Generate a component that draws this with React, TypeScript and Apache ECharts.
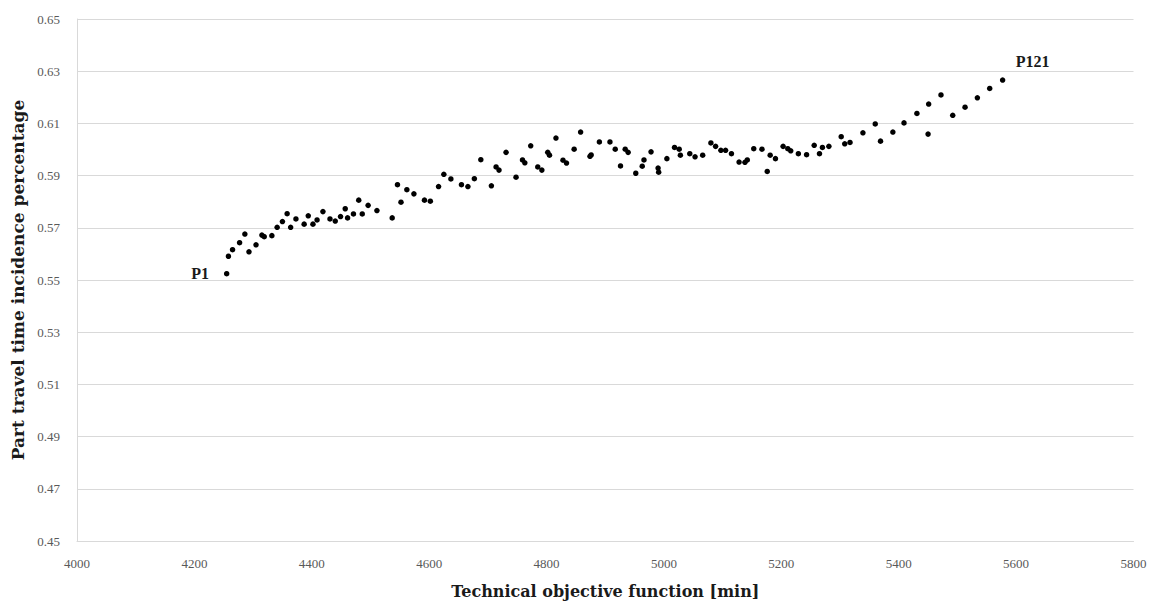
import React, { useEffect, useRef } from "react";
import * as echarts from "echarts";

const xValues: number[] = [
  4255, 4258, 4265, 4277, 4286, 4293, 4305, 4315, 4319, 4332,
  4341, 4350, 4358, 4364, 4373, 4387, 4394, 4402, 4409, 4419,
  4431, 4440, 4449, 4457, 4461, 4471, 4480, 4486, 4496, 4511,
  4537, 4546, 4552, 4562, 4574, 4592, 4602, 4616, 4625, 4637,
  4655, 4666, 4677, 4688, 4706, 4714, 4719, 4731, 4748, 4759,
  4763, 4773, 4785, 4792, 4802, 4805, 4816, 4828, 4834, 4847,
  4858, 4874, 4876, 4890, 4908, 4917, 4926, 4934, 4939, 4952,
  4963, 4966, 4978, 4990, 4991, 5005, 5018, 5026, 5028, 5044,
  5053, 5066, 5080, 5088, 5097, 5105, 5115, 5128, 5138, 5142,
  5153, 5167, 5176, 5181, 5190, 5203, 5211, 5216, 5229, 5243,
  5256, 5265, 5270, 5281, 5302, 5308, 5317, 5339, 5360, 5369,
  5390, 5409, 5431, 5450, 5451, 5472, 5492, 5513, 5534, 5555,
  5577,
];

const yValues: number[] = [
  0.5524, 0.5591, 0.5616, 0.5643, 0.5676, 0.5608, 0.5635, 0.5672, 0.5666, 0.567,
  0.5702, 0.5724, 0.5754, 0.5702, 0.5734, 0.5714, 0.5746, 0.5714, 0.573, 0.5762,
  0.5734, 0.5726, 0.5743, 0.5773, 0.5738, 0.5753, 0.5806, 0.5753, 0.5786, 0.5766,
  0.5738, 0.5865, 0.5798, 0.5846, 0.583, 0.5806, 0.5802, 0.5858, 0.5905, 0.5887,
  0.5865, 0.5858, 0.5888, 0.5961, 0.5861, 0.5933, 0.5921, 0.5989, 0.5894, 0.596,
  0.5949, 0.6014, 0.5933, 0.5921, 0.5989, 0.5978, 0.6044, 0.5959, 0.5948, 0.6001,
  0.6067, 0.5974, 0.5979, 0.6029, 0.6029, 0.6001, 0.5937, 0.6001, 0.5989, 0.5909,
  0.5936, 0.596, 0.5991, 0.5929, 0.5913, 0.5965, 0.6008, 0.6001, 0.5978, 0.5984,
  0.5972, 0.5978, 0.6025, 0.6012, 0.5997, 0.5997, 0.5984, 0.5952, 0.5951, 0.596,
  0.6003, 0.6001, 0.5916, 0.5978, 0.5965, 0.6012, 0.6003, 0.5995, 0.5984, 0.598,
  0.6016, 0.5984, 0.6008, 0.6012, 0.6049, 0.6022, 0.6027, 0.6064, 0.6098, 0.6032,
  0.6067, 0.6102, 0.6138, 0.6059, 0.6174, 0.6209, 0.6131, 0.6162, 0.6198, 0.6234,
  0.6266,
];

const pointNames: string[] = ["P1", "P121"];

const xTitle = "Technical objective function [min]";
const yTitle = "Part travel time incidence percentage";

const FONT = "'Liberation Serif', 'DejaVu Serif', serif";
const TITLE_FONT = "'DejaVu Serif', 'Liberation Serif', serif";

export default function App() {
  const ref = useRef<HTMLDivElement>(null);

  useEffect(() => {
    if (!ref.current) return;
    document.body.style.margin = "0";
    document.body.style.overflow = "hidden";
    const chart = echarts.init(ref.current, undefined, { renderer: "svg" });
    const last = xValues.length - 1;
    const data = xValues.map((x, i) => {
      const item: any = { value: [x, yValues[i]] };
      if (i === 0) {
        item.label = {
          show: true,
          position: "left",
          distance: 15,
          formatter: pointNames[0],
        };
      } else if (i === last) {
        item.label = {
          show: true,
          position: "top",
          distance: 6,
          offset: [30, -2],
          formatter: pointNames[1],
        };
      }
      return item;
    });

    chart.setOption({
      animation: false,
      backgroundColor: "#ffffff",
      grid: {
        left: 77,
        right: 31.5,
        top: 19,
        bottom: 61,
        containLabel: false,
        outerBoundsMode: "none",
      },
      xAxis: {
        type: "value",
        min: 4000,
        max: 5800,
        interval: 200,
        name: xTitle,
        nameLocation: "middle",
        nameGap: 42,
        nameTextStyle: { fontFamily: TITLE_FONT, fontWeight: "bold", fontSize: 16, color: "#1a1a1a" },
        axisLine: { show: true, lineStyle: { color: "#d9d9d9", width: 1 } },
        axisTick: { show: false },
        splitLine: { show: false },
        axisLabel: {
          fontFamily: FONT,
          fontSize: 13,
          color: "#595959",
          margin: 16,
          formatter: (v: number) => String(v),
        },
      },
      yAxis: {
        type: "value",
        min: 0.45,
        max: 0.65,
        interval: 0.02,
        name: yTitle,
        nameLocation: "middle",
        nameGap: 50,
        nameTextStyle: { fontFamily: TITLE_FONT, fontWeight: "bold", fontSize: 17, color: "#1a1a1a" },
        axisLine: { show: true, lineStyle: { color: "#d9d9d9", width: 1 } },
        axisTick: { show: false },
        splitLine: { show: true, lineStyle: { color: "#d9d9d9", width: 1 } },
        axisLabel: {
          fontFamily: FONT,
          fontSize: 13,
          color: "#595959",
          margin: 17,
          formatter: (v: number) => v.toFixed(2),
        },
      },
      series: [
        {
          type: "scatter",
          symbol: "circle",
          symbolSize: 5.5,
          itemStyle: { color: "#000000", opacity: 1 },
          label: {
            fontFamily: FONT,
            fontWeight: "bold",
            fontSize: 16,
            color: "#1a1a1a",
          },
          data,
        },
      ],
    });

    return () => chart.dispose();
  }, []);

  return <div ref={ref} style={{ width: 1165, height: 602 }} />;
}
